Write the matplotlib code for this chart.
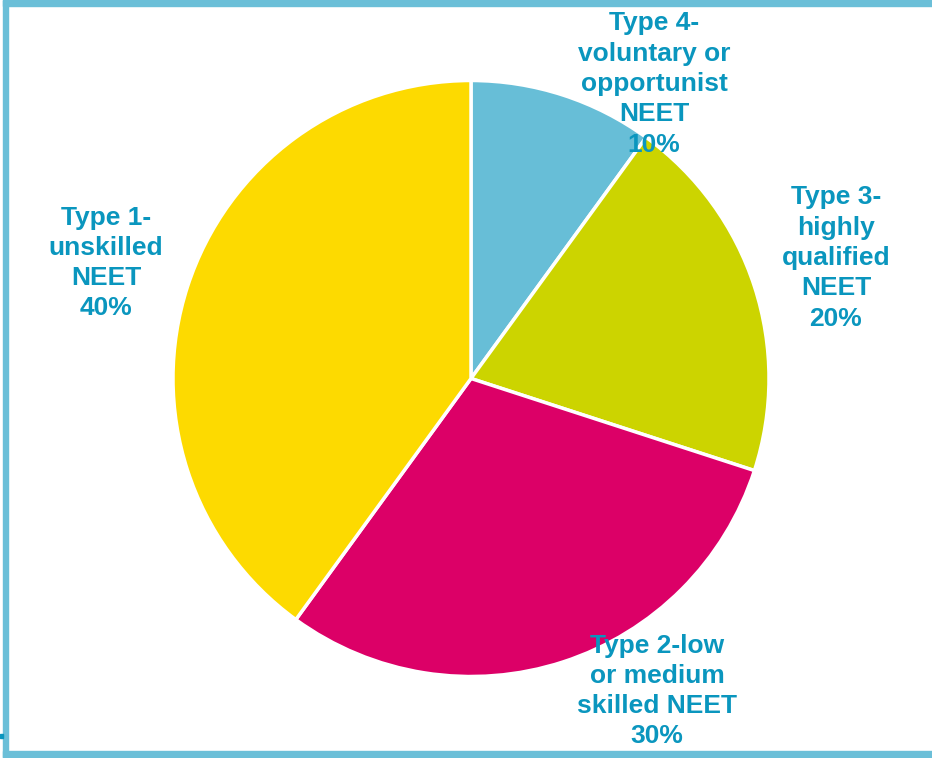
import matplotlib.pyplot as plt
from matplotlib.patches import Rectangle

categories = ["Type 4-\nvoluntary or\nopportunist\nNEET", "Type 3-\nhighly\nqualified\nNEET",
              "Type 2-low\nor medium\nskilled NEET", "Type 1-\nunskilled\nNEET"]
values = [10, 20, 30, 40]
colors = ["#67BED7", "#CCD400", "#DC0067", "#FDDA00"]
label_pos = [(654, 84), (836, 258), (657, 691), (106, 263)]

W, H = 932, 758
fig = plt.figure(figsize=(W / 100, H / 100), dpi=100)
ax = fig.add_axes([0, 0, 1, 1])
ax.set_xlim(0, W)
ax.set_ylim(0, H)
ax.set_aspect('equal')
ax.axis('off')

ax.pie(values, colors=colors, startangle=90, counterclock=False,
       center=(471, H - 378.5), radius=298,
       wedgeprops=dict(edgecolor='white', linewidth=2.5), frame=True)
ax.set_xlim(0, W)
ax.set_ylim(0, H)
ax.axis('off')

txtcol = "#0A96BE"
for cat, v, (x, y) in zip(categories, values, label_pos):
    ax.text(x, H - y, f"{cat}\n{v}%", ha='center', va='center', color=txtcol,
            fontsize=19, fontweight='bold', family='Liberation Sans', linespacing=1.33)

border = "#6BBFD8"
ax.add_patch(Rectangle((3, H - 6), W, 6, color=border, zorder=5))
ax.add_patch(Rectangle((3, 0), 5, H, color=border, zorder=5))
ax.add_patch(Rectangle((3, H - 757), W, 6, color=border, zorder=5))
ax.add_patch(Rectangle((0, H - 738), 3, 4, color="#0A96BE", zorder=5))

fig.savefig("out.png", dpi=100)
